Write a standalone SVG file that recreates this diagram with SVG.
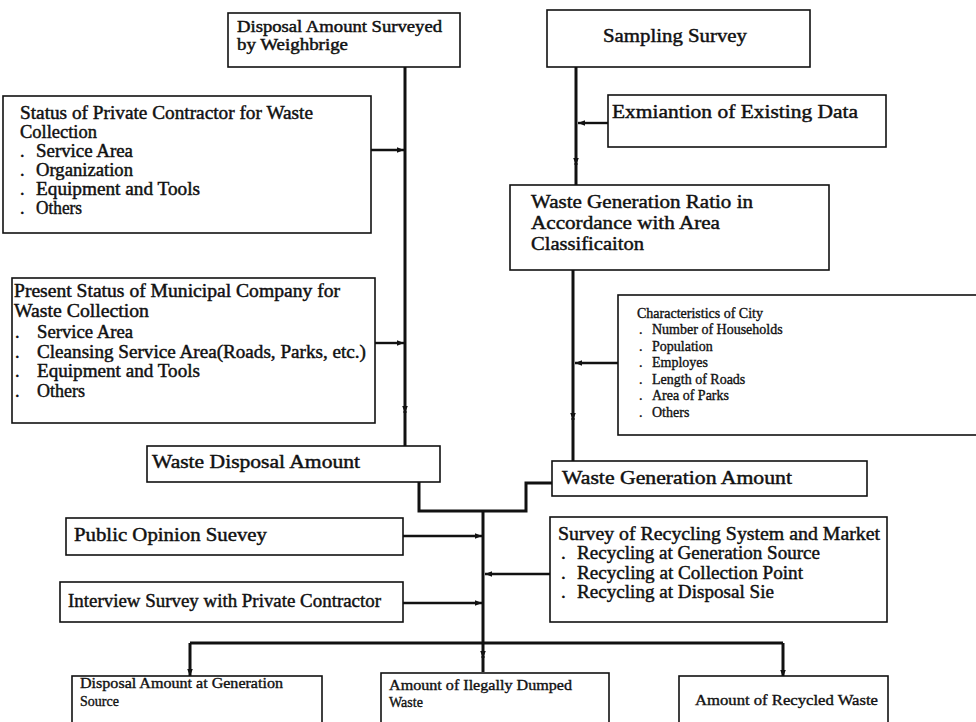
<svg xmlns="http://www.w3.org/2000/svg" width="976" height="722" viewBox="0 0 976 722">
  <style>
    .box { fill: #fff; stroke: #111; stroke-width: 1.6; }
    .t { font-family: "Liberation Serif", "Times New Roman", serif; fill: #111; stroke: #111; stroke-width: 0.45; }
    .big { font-size: 19px; }
    .mid { font-size: 18px; }
    .top { font-size: 16px; }
    .sm { font-size: 14px; stroke-width: 0.35; }
    .line { stroke: #111; stroke-width: 3; fill: none; }
    .arrow { stroke: #111; stroke-width: 2.4; fill: none; marker-end: url(#ah); }
    .down { stroke: #111; stroke-width: 3; fill: none; marker-end: url(#ah); }
  </style>
  <defs>
    <marker id="ah" viewBox="0 0 10 10" refX="10" refY="5" markerWidth="9" markerHeight="7" markerUnits="userSpaceOnUse" orient="auto">
      <path d="M0,1 L10,5 L0,9 z" fill="#111"/>
    </marker>
  </defs>
  <rect width="976" height="722" fill="#fff"/>

  <!-- connectors -->
  <g id="connectors">
    <!-- weighbridge trunk -->
    <path class="down" d="M405 67 V413"/>
    <path class="line" d="M405 411 V446"/>
    <path class="arrow" d="M371 150 H404"/>
    <path class="arrow" d="M375 343 H404"/>
    <!-- sampling trunk -->
    <path class="down" d="M576 67 V165"/>
    <path class="line" d="M576 163 V185"/>
    <path class="arrow" d="M608 123 H578"/>
    <path class="down" d="M573 270 V420"/>
    <path class="line" d="M573 418 V461"/>
    <path class="arrow" d="M618 363 H575"/>
    <!-- merge of disposal and generation amounts -->
    <path class="line" d="M419 482 V511 H526 V483 H552"/>
    <path class="down" d="M483 511 V658"/>
    <path class="line" d="M483 656 V672"/>
    <path class="arrow" d="M403 536 H482"/>
    <path class="arrow" d="M403 603 H482"/>
    <path class="arrow" d="M550 574 H485"/>
    <!-- distribution bar -->
    <path class="line" d="M190 643 H783"/>
    <path class="down" d="M190 643 V676"/>
    <path class="down" d="M783 643 V677"/>
  </g>

  <g id="weighbridge">
    <rect class="box" x="228" y="13" width="232" height="54"/>
    <text class="t top" x="237" y="32" textLength="205" lengthAdjust="spacingAndGlyphs">Disposal Amount Surveyed</text>
    <text class="t top" x="237" y="50" textLength="111" lengthAdjust="spacingAndGlyphs">by Weighbrige</text>
  </g>

  <g id="private-contractor">
    <rect class="box" x="3" y="96" width="368" height="137"/>
    <text class="t mid" x="20" y="119" textLength="293" lengthAdjust="spacingAndGlyphs">Status of Private Contractor for Waste</text>
    <text class="t mid" x="20" y="138" textLength="77" lengthAdjust="spacingAndGlyphs">Collection</text>
    <text class="t mid" x="20" y="157">.</text><text class="t mid" x="36" y="157" textLength="97" lengthAdjust="spacingAndGlyphs">Service Area</text>
    <text class="t mid" x="20" y="176">.</text><text class="t mid" x="36" y="176" textLength="97" lengthAdjust="spacingAndGlyphs">Organization</text>
    <text class="t mid" x="20" y="195">.</text><text class="t mid" x="36" y="195" textLength="164" lengthAdjust="spacingAndGlyphs">Equipment and Tools</text>
    <text class="t mid" x="20" y="214">.</text><text class="t mid" x="36" y="214" textLength="46" lengthAdjust="spacingAndGlyphs">Others</text>
  </g>

  <g id="municipal-company">
    <rect class="box" x="12" y="278" width="363" height="145"/>
    <text class="t mid" x="14" y="297" textLength="326" lengthAdjust="spacingAndGlyphs">Present Status of Municipal Company for</text>
    <text class="t mid" x="14" y="317" textLength="135" lengthAdjust="spacingAndGlyphs">Waste Collection</text>
    <text class="t mid" x="15" y="338">.</text><text class="t mid" x="37" y="338" textLength="96" lengthAdjust="spacingAndGlyphs">Service Area</text>
    <text class="t mid" x="15" y="358">.</text><text class="t mid" x="37" y="358" textLength="329" lengthAdjust="spacingAndGlyphs">Cleansing Service Area(Roads, Parks, etc.)</text>
    <text class="t mid" x="15" y="377">.</text><text class="t mid" x="37" y="377" textLength="163" lengthAdjust="spacingAndGlyphs">Equipment and Tools</text>
    <text class="t mid" x="15" y="397">.</text><text class="t mid" x="37" y="397" textLength="48" lengthAdjust="spacingAndGlyphs">Others</text>
  </g>

  <g id="disposal-amount">
    <rect class="box" x="147" y="446" width="293" height="36"/>
    <text class="t big" x="152" y="468" textLength="208" lengthAdjust="spacingAndGlyphs">Waste Disposal Amount</text>
  </g>

  <g id="sampling-survey">
    <rect class="box" x="547" y="10" width="263" height="57"/>
    <text class="t big" x="603" y="42" textLength="144" lengthAdjust="spacingAndGlyphs">Sampling Survey</text>
  </g>

  <g id="existing-data">
    <rect class="box" x="608" y="95" width="278" height="52"/>
    <text class="t big" x="612" y="118" textLength="246" lengthAdjust="spacingAndGlyphs">Exmiantion of Existing Data</text>
  </g>

  <g id="generation-ratio">
    <rect class="box" x="510" y="185" width="319" height="85"/>
    <text class="t big" x="531" y="208" textLength="222" lengthAdjust="spacingAndGlyphs">Waste Generation Ratio in</text>
    <text class="t big" x="531" y="229" textLength="189" lengthAdjust="spacingAndGlyphs">Accordance with Area</text>
    <text class="t big" x="531" y="250" textLength="113" lengthAdjust="spacingAndGlyphs">Classificaiton</text>
  </g>

  <g id="city-characteristics">
    <rect class="box" x="618" y="295" width="380" height="140"/>
    <text class="t sm" x="637" y="318">Characteristics of City</text>
    <text class="t sm" x="639" y="334">.</text><text class="t sm" x="652" y="334">Number of Households</text>
    <text class="t sm" x="639" y="351">.</text><text class="t sm" x="652" y="351">Population</text>
    <text class="t sm" x="639" y="367">.</text><text class="t sm" x="652" y="367">Employes</text>
    <text class="t sm" x="639" y="384">.</text><text class="t sm" x="652" y="384">Length of Roads</text>
    <text class="t sm" x="639" y="400">.</text><text class="t sm" x="652" y="400">Area of Parks</text>
    <text class="t sm" x="639" y="417">.</text><text class="t sm" x="652" y="417">Others</text>
  </g>

  <g id="generation-amount">
    <rect class="box" x="552" y="461" width="315" height="35"/>
    <text class="t big" x="562" y="484" textLength="230" lengthAdjust="spacingAndGlyphs">Waste Generation Amount</text>
  </g>

  <g id="public-opinion">
    <rect class="box" x="66" y="518" width="337" height="37"/>
    <text class="t big" x="74" y="541" textLength="193" lengthAdjust="spacingAndGlyphs">Public Opinion Suevey</text>
  </g>

  <g id="contractor-interview">
    <rect class="box" x="60" y="582" width="343" height="40"/>
    <text class="t big" x="68" y="607" textLength="313" lengthAdjust="spacingAndGlyphs">Interview Survey with Private Contractor</text>
  </g>

  <g id="recycling-survey">
    <rect class="box" x="550" y="517" width="337" height="105"/>
    <text class="t big" x="558" y="540" textLength="322" lengthAdjust="spacingAndGlyphs">Survey  of Recycling System and Market</text>
    <text class="t big" x="561" y="559">.</text><text class="t big" x="577" y="559" textLength="243" lengthAdjust="spacingAndGlyphs">Recycling at Generation Source</text>
    <text class="t big" x="561" y="579">.</text><text class="t big" x="577" y="579" textLength="226" lengthAdjust="spacingAndGlyphs">Recycling at Collection Point</text>
    <text class="t big" x="561" y="598">.</text><text class="t big" x="577" y="598" textLength="197" lengthAdjust="spacingAndGlyphs">Recycling at Disposal Sie</text>
  </g>

  <g id="source-disposal">
    <rect class="box" x="72" y="676" width="250" height="60"/>
    <text class="t sm" x="80" y="688" textLength="203" lengthAdjust="spacingAndGlyphs">Disposal  Amount at Generation</text>
    <text class="t sm" x="80" y="706">Source</text>
  </g>

  <g id="illegal-dumping">
    <rect class="box" x="381" y="673" width="228" height="60"/>
    <text class="t sm" x="389" y="690" textLength="183" lengthAdjust="spacingAndGlyphs">Amount of Ilegally Dumped</text>
    <text class="t sm" x="389" y="707">Waste</text>
  </g>

  <g id="recycled-waste">
    <rect class="box" x="679" y="676" width="209" height="60"/>
    <text class="t sm" x="695" y="705" textLength="183" lengthAdjust="spacingAndGlyphs">Amount of Recycled Waste</text>
  </g>
</svg>
